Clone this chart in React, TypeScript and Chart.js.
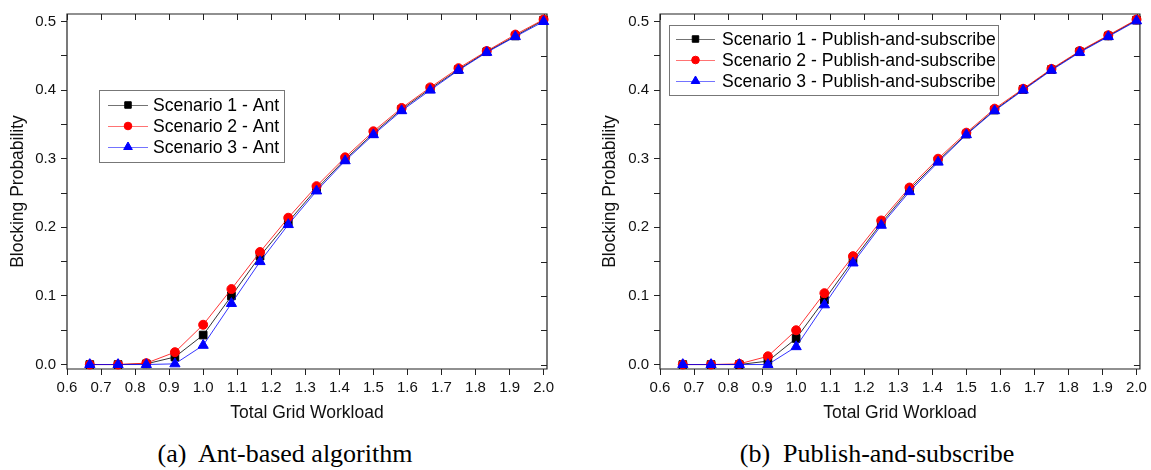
import React, { useEffect, useRef } from 'react';
import { Chart, registerables } from 'chart.js';

Chart.register(...registerables);

// ---------- data ----------
const workload = [0.667, 0.75, 0.833, 0.917, 1.0, 1.083, 1.167, 1.25, 1.333, 1.417, 1.5, 1.583, 1.667, 1.75, 1.833, 1.917, 2.0];

const antScenario1 = [0, 0, 0.001, 0.011, 0.043, 0.100, 0.158, 0.208, 0.256, 0.299, 0.337, 0.372, 0.402, 0.430, 0.456, 0.479, 0.502];
const antScenario2 = [0, 0, 0.002, 0.018, 0.058, 0.110, 0.164, 0.214, 0.260, 0.302, 0.340, 0.374, 0.404, 0.432, 0.457, 0.481, 0.503];
const antScenario3 = [0, 0, 0, 0.001, 0.028, 0.089, 0.150, 0.204, 0.253, 0.297, 0.335, 0.370, 0.400, 0.429, 0.455, 0.478, 0.500];

const psScenario1 = [0, 0, 0, 0.005, 0.038, 0.094, 0.152, 0.206, 0.255, 0.297, 0.336, 0.371, 0.401, 0.430, 0.456, 0.479, 0.502];
const psScenario2 = [0, 0, 0.001, 0.012, 0.050, 0.104, 0.158, 0.210, 0.258, 0.300, 0.338, 0.373, 0.402, 0.431, 0.457, 0.480, 0.503];
const psScenario3 = [0, 0, 0, 0, 0.026, 0.087, 0.148, 0.203, 0.252, 0.295, 0.335, 0.370, 0.400, 0.429, 0.455, 0.478, 0.501];

const antLabels = ['Scenario 1 - Ant', 'Scenario 2 - Ant', 'Scenario 3 - Ant'];
const psLabels = ['Scenario 1 - Publish-and-subscribe', 'Scenario 2 - Publish-and-subscribe', 'Scenario 3 - Publish-and-subscribe'];

const xTickValues = [0.6, 0.7, 0.8, 0.9, 1.0, 1.1, 1.2, 1.3, 1.4, 1.5, 1.6, 1.7, 1.8, 1.9, 2.0];
const xTickLabels = ['0.6', '0.7', '0.8', '0.9', '1.0', '1.1', '1.2', '1.3', '1.4', '1.5', '1.6', '1.7', '1.8', '1.9', '2.0'];
const yMajorTicks = [0, 0.1, 0.2, 0.3, 0.4, 0.5];
const yMajorLabels = ['0.0', '0.1', '0.2', '0.3', '0.4', '0.5'];
const yMinorTicks = [0.05, 0.15, 0.25, 0.35, 0.45];

const xTitle = 'Total Grid Workload';
const yTitle = 'Blocking Probability';
const captions = ['(a)  Ant-based algorithm', '(b)  Publish-and-subscribe'];

// ---------- styles ----------
const FONT = '"Liberation Sans", Arial, Helvetica, sans-serif';
const seriesStyles = [
  { color: '#000000', line: '#000000', pointStyle: 'rect', radius: 5.4 },
  { color: '#ff0000', line: '#ff0000', pointStyle: 'circle', radius: 4.5 },
  { color: '#0000ff', line: '#0000ff', pointStyle: 'triangle', radius: 5.9 },
];

function drawMarker(ctx: CanvasRenderingContext2D, style: string, x: number, y: number, r: number, color: string) {
  ctx.save();
  ctx.fillStyle = color;
  ctx.strokeStyle = color;
  ctx.lineWidth = 1;
  ctx.beginPath();
  if (style === 'rect') {
    const s = r * Math.SQRT1_2;
    ctx.rect(x - s, y - s, 2 * s, 2 * s);
  } else if (style === 'circle') {
    ctx.arc(x, y, r, 0, Math.PI * 2);
  } else {
    let rad = 0;
    const t = (2 * Math.PI) / 3;
    ctx.moveTo(x + Math.sin(rad) * r, y - Math.cos(rad) * r);
    rad += t;
    ctx.lineTo(x + Math.sin(rad) * r, y - Math.cos(rad) * r);
    rad += t;
    ctx.lineTo(x + Math.sin(rad) * r, y - Math.cos(rad) * r);
    ctx.closePath();
  }
  ctx.fill();
  ctx.stroke();
  ctx.restore();
}

const framePlugin = {
  id: 'frameTicks',
  beforeDatasetsDraw(chart: any) {
    const { ctx, chartArea, scales } = chart;
    const { left, right, top, bottom } = chartArea;
    ctx.save();
    ctx.strokeStyle = '#222';
    ctx.lineWidth = 1.2;
    ctx.beginPath();
    ctx.rect(left, top, right - left, bottom - top);
    ctx.stroke();
    ctx.lineWidth = 1;
    ctx.beginPath();
    xTickValues.forEach((v) => {
      const px = Math.round(scales.x.getPixelForValue(v)) + 0.5;
      ctx.moveTo(px, top);
      ctx.lineTo(px, top + 6);
    });
    [...yMajorTicks, ...yMinorTicks].forEach((v) => {
      const py = Math.round(scales.y.getPixelForValue(v)) + 0.5;
      ctx.moveTo(right, py);
      ctx.lineTo(right - 6, py);
    });
    ctx.stroke();
    ctx.restore();
  },
};

const legendBoxPlugin = {
  id: 'legendBox',
  afterDraw(chart: any, _args: any, opts: any) {
    const { ctx, chartArea } = chart;
    const x0 = chartArea.left + opts.offsetX;
    const y0 = chartArea.top + opts.offsetY;
    ctx.save();
    ctx.font = `17.6px ${FONT}`;
    const datasets = chart.data.datasets;
    const maxW = Math.max(...datasets.map((d: any) => ctx.measureText(d.label).width));
    const w = opts.textX + maxW + opts.padRight;
    const h = opts.padTop * 2 + opts.rowH * datasets.length;
    ctx.fillStyle = '#fff';
    ctx.fillRect(x0, y0, w, h);
    ctx.strokeStyle = '#777';
    ctx.lineWidth = 1;
    ctx.strokeRect(Math.round(x0) + 0.5, Math.round(y0) + 0.5, Math.round(w), Math.round(h));
    datasets.forEach((d: any, i: number) => {
      const st = seriesStyles[i];
      const cy = y0 + opts.padTop + opts.rowH * (i + 0.5);
      ctx.strokeStyle = st.line;
      ctx.globalAlpha = 0.55;
      ctx.lineWidth = 1;
      ctx.beginPath();
      ctx.moveTo(x0 + opts.lineX0, Math.round(cy) + 0.5);
      ctx.lineTo(x0 + opts.lineX1, Math.round(cy) + 0.5);
      ctx.stroke();
      ctx.globalAlpha = 1;
      drawMarker(ctx, st.pointStyle, x0 + (opts.lineX0 + opts.lineX1) / 2, cy, st.radius * 0.85, st.color);
      ctx.fillStyle = '#000';
      ctx.textBaseline = 'middle';
      ctx.textAlign = 'left';
      ctx.fillText(d.label, x0 + opts.textX, cy + 1);
    });
    ctx.restore();
  },
};

function makeConfig(series: number[][], labels: string[], yWidth: number, yTitlePad: number, padTop: number, padRight: number, legendOpts: any) {
  return {
    type: 'line' as const,
    data: {
      datasets: series.map((vals, i) => ({
        label: labels[i],
        data: workload.map((x, j) => ({ x, y: vals[j] })),
        borderColor: seriesStyles[i].line,
        backgroundColor: seriesStyles[i].color,
        pointBackgroundColor: seriesStyles[i].color,
        pointBorderColor: seriesStyles[i].color,
        pointStyle: seriesStyles[i].pointStyle,
        pointRadius: seriesStyles[i].radius,
        pointBorderWidth: 1,
        borderWidth: 0.8,
        tension: 0,
        clip: false,
        order: 2 - i,
      })),
    },
    options: {
      animation: false,
      responsive: false,
      devicePixelRatio: 1,
      layout: { padding: { left: 0, top: padTop, right: padRight, bottom: 0 } },
      plugins: {
        legend: { display: false },
        tooltip: { enabled: false },
        legendBox: legendOpts,
      },
      scales: {
        x: {
          type: 'linear',
          min: 0.6,
          max: 2.01,
          afterBuildTicks: (scale: any) => {
            scale.ticks = xTickValues.map((v) => ({ value: v }));
          },
          afterFit: (scale: any) => {
            scale.height = 61;
          },
          ticks: {
            autoSkip: false,
            maxRotation: 0,
            padding: 4,
            color: '#111',
            font: { size: 15, family: FONT },
            callback: (v: number) => {
              const idx = xTickValues.findIndex((t) => Math.abs(t - v) < 1e-6);
              return idx >= 0 ? xTickLabels[idx] : '';
            },
          },
          grid: { display: true, drawOnChartArea: false, drawTicks: true, tickLength: 6, tickColor: '#222', tickWidth: 1 },
          border: { display: false },
          title: { display: true, text: xTitle, color: '#111', font: { size: 17.5, family: FONT }, padding: { top: 0, bottom: 6 } },
        },
        y: {
          type: 'linear',
          min: -0.0065,
          max: 0.511,
          afterBuildTicks: (scale: any) => {
            scale.ticks = [...yMajorTicks, ...yMinorTicks].sort((a, b) => a - b).map((v) => ({ value: v }));
          },
          afterFit: (scale: any) => {
            scale.width = yWidth;
          },
          ticks: {
            autoSkip: false,
            padding: 5,
            color: '#111',
            font: { size: 15, family: FONT },
            callback: (v: number) => {
              const idx = yMajorTicks.findIndex((t) => Math.abs(t - v) < 1e-6);
              return idx >= 0 ? yMajorLabels[idx] : '';
            },
          },
          grid: { display: true, drawOnChartArea: false, drawTicks: true, tickLength: 6, tickColor: '#222', tickWidth: 1 },
          border: { display: false },
          title: { display: true, text: yTitle, color: '#111', font: { size: 17.5, family: FONT }, padding: { top: yTitlePad, bottom: 0 } },
        },
      },
    },
    plugins: [framePlugin, legendBoxPlugin],
  };
}

function ChartCanvas({ config, width, height }: { config: any; width: number; height: number }) {
  const ref = useRef<HTMLCanvasElement | null>(null);
  useEffect(() => {
    if (!ref.current) return;
    const chart = new Chart(ref.current, config);
    return () => chart.destroy();
  }, [config]);
  return <canvas ref={ref} width={width} height={height} style={{ display: 'block', width, height }} />;
}

const leftConfig = makeConfig(
  [antScenario1, antScenario2, antScenario3],
  antLabels,
  67,
  8,
  12,
  28,
  { offsetX: 32, offsetY: 76, padTop: 4.5, rowH: 21, lineX0: 9, lineX1: 49, textX: 54, padRight: 5 }
);

const rightConfig = makeConfig(
  [psScenario1, psScenario2, psScenario3],
  psLabels,
  84,
  24,
  14,
  7,
  { offsetX: 9, offsetY: 11, padTop: 3.5, rowH: 21, lineX0: 7, lineX1: 46, textX: 53, padRight: 2 }
);

export default function App() {
  return (
    <div style={{ position: 'absolute', left: 0, top: 0, width: 1151, height: 470, background: '#fff', overflow: 'hidden' }}>
      <div style={{ position: 'absolute', left: 0, top: 0 }}>
        <ChartCanvas config={leftConfig} width={575} height={430} />
      </div>
      <div style={{ position: 'absolute', left: 576, top: 0 }}>
        <ChartCanvas config={rightConfig} width={575} height={430} />
      </div>
      {captions.map((c, i) => (
        <div
          key={c}
          style={{
            position: 'absolute',
            left: (i === 0 ? 285 : 877) - 250,
            width: 500,
            top: 439,
            lineHeight: '30px',
            textAlign: 'center',
            fontFamily: '"Liberation Serif", "Times New Roman", serif',
            fontSize: 26,
            color: '#000',
            whiteSpace: 'pre',
          }}
        >
          {c}
        </div>
      ))}
    </div>
  );
}
